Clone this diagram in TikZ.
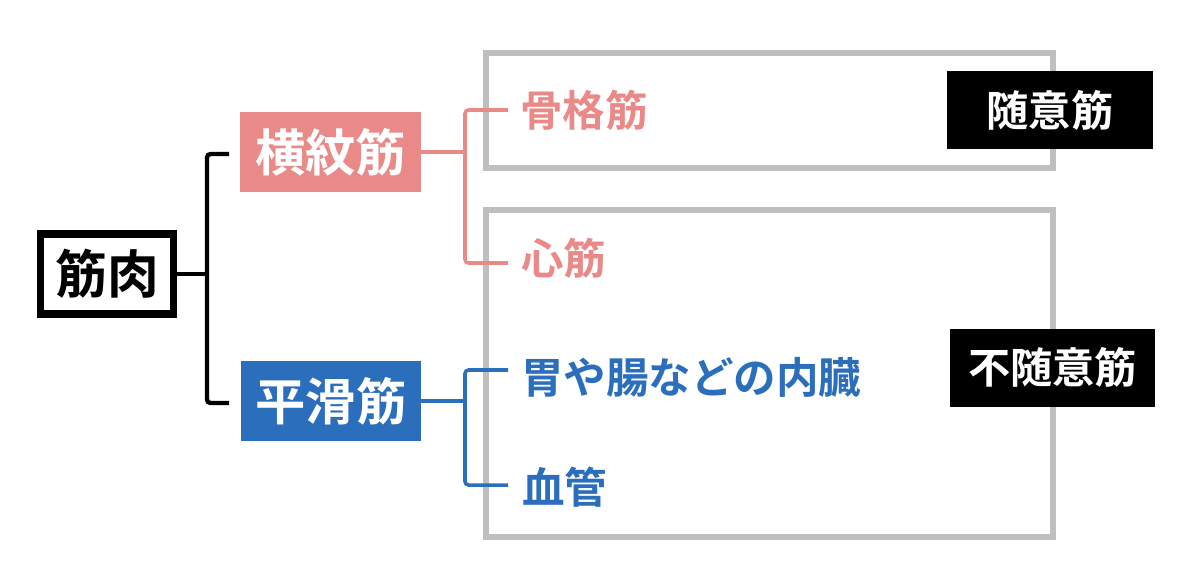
\documentclass[tikz,border=0pt]{standalone}
\usepackage{fontspec}
\newfontfamily\jp{Noto Sans CJK JP}[BoldFont={Noto Sans CJK JP Bold}]
\definecolor{pinkc}{RGB}{234,138,136}
\definecolor{bluec}{RGB}{43,110,187}
\definecolor{grayc}{RGB}{191,191,191}
\begin{document}
\begin{tikzpicture}[x=0.02cm,y=-0.02cm,
  big/.style={font=\jp\bfseries\fontsize{28.6}{30}\selectfont, inner sep=0pt, minimum height=80*0.02cm},
  lab/.style={font=\jp\bfseries\fontsize{24.2}{26}\selectfont, inner sep=0pt, anchor=west},
  tag/.style={font=\jp\bfseries\fontsize{24}{26}\selectfont, fill=black, text=white, inner sep=0pt, minimum height=78*0.02cm},
  blk/.style={black, line width=2.5pt, rounded corners=2pt},
  pk/.style={pinkc, line width=2pt, rounded corners=2pt},
  bl/.style={bluec, line width=2pt, rounded corners=2pt},
  grp/.style={draw=grayc, line width=3.4pt}]
\useasboundingbox (0,0) rectangle (1200,585);
% groups
\draw[grp] (486,53) rectangle (1053,168);
\draw[grp] (486,210) rectangle (1053,537);
% main nodes
\node[big, draw=black, line width=4.5pt, minimum width=133*0.02cm, minimum height=80*0.02cm, font=\jp\bfseries\fontsize{29.5}{31}\selectfont] (kin) at (107,274) {筋肉};
\node[big, fill=pinkc, text=white, minimum width=181*0.02cm] (oumon) at (330.5,152) {横紋筋};
\node[big, fill=bluec, text=white, minimum width=180*0.02cm] (heikatsu) at (331,401) {平滑筋};
% leaves
\coordinate (p1) at (508,110);
\coordinate (p2) at (508,263);
\coordinate (b1) at (508,370);
\coordinate (b2) at (508,485);
\node[lab, text=pinkc] (kokaku) at (520,110) {骨格筋};
\node[lab, text=pinkc] (shin) at (521,258) {心筋};
\node[lab, text=bluec] (inai) at (521,377) {胃や腸などの内臓};
\node[lab, text=bluec] (kekkan) at (522,487) {血管};
% tags
\node[tag, minimum width=206*0.02cm] (zuii) at (1050,110) {随意筋};
\node[tag, minimum width=205*0.02cm] (fuzuii) at (1052.5,367.5) {不随意筋};
% connectors
\coordinate (k1) at (229,154);
\coordinate (k2) at (229,403);
\draw[blk] (kin.east) -- (207,274);
\draw[blk] (k1) -- (207,154) -- (207,403) -- (k2);
\draw[pk] (oumon.east) -- (465,152);
\draw[pk] (p1) -- (465,110) -- (465,263) -- (p2);
\draw[bl] (heikatsu.east) -- (465,401);
\draw[bl] (b1) -- (465,370) -- (465,485) -- (b2);
\end{tikzpicture}
\end{document}
